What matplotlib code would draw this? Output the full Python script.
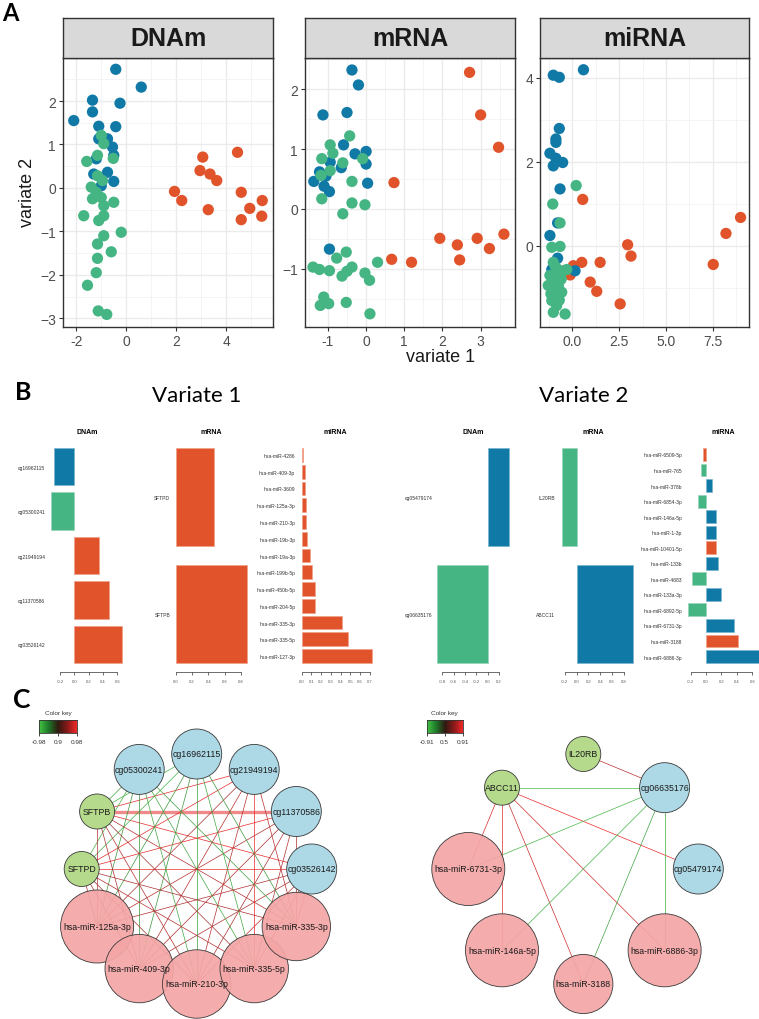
import numpy as np
import matplotlib
matplotlib.use("Agg")
import matplotlib.pyplot as plt
from matplotlib.patches import Circle
from matplotlib.colors import LinearSegmentedColormap, to_rgb

plt.rcParams['font.family'] = ['Liberation Sans', 'DejaVu Sans']

# ------------------------------------------------------------------ data
BLUE, GREEN, ORANGE = '#1179A6', '#45B584', '#E1542B'

# Panel A : sample plots (variate 1 / variate 2) per block and group
DNAM_BLUE_X = [-0.42, 0.6, -1.35, -1.35, -0.25, -2.1, -0.42, -1.1, -1.1, -0.75, -0.55, -0.5, -1.2, -1.3, -0.75, -0.5, -1.0]
DNAM_BLUE_Y = [2.73, 2.32, 2.02, 1.75, 1.95, 1.55, 1.41, 1.42, 1.13, 1.13, 0.94, 0.75, 0.67, 0.32, 0.36, 0.15, 0.05]
DNAM_GREEN_X = [-1.0, -0.9, -1.15, -1.58, -0.52, -1.15, -1.4, -1.2, -1.0, -0.9, -0.5, -1.7, -0.9, -1.1, -0.2, -0.9,
                -1.15, -0.6, -1.15, -1.2, -1.55, -1.12, -0.78, -1.35, -0.95]
DNAM_GREEN_Y = [1.21, 1.02, 0.75, 0.61, 0.68, 0.28, 0.02, -0.1, -0.22, -0.41, -0.33, -0.64, -0.64, -0.75, -1.02, -1.1,
                -1.29, -1.47, -1.62, -1.95, -2.24, -2.83, -2.91, -0.25, 0.17]
DNAM_ORANGE_X = [3.06, 4.45, 2.95, 3.35, 3.62, 1.93, 2.22, 3.28, 4.6, 5.44, 4.94, 4.6, 5.42]
DNAM_ORANGE_Y = [0.71, 0.82, 0.4, 0.32, 0.17, -0.08, -0.29, -0.5, -0.1, -0.29, -0.47, -0.73, -0.65]

MRNA_BLUE_X = [-0.37, -0.2, -1.13, -0.5, -0.59, -0.65, -0.29, 0.0, 0.0, 0.04, -1.22, -1.37, -0.96, -0.94, -0.96, -1.1, -1.05]
MRNA_BLUE_Y = [2.32, 2.07, 1.57, 1.61, 1.07, 0.69, 0.92, 0.96, 0.75, 0.43, 0.62, 0.46, 0.29, 0.78, -0.67, 0.38, 0.55]
MRNA_GREEN_X = [-0.94, -0.43, -0.87, -1.16, -0.61, -0.94, -1.18, -0.09, -0.37, -0.37, -0.03, -1.16, -0.61, -0.52, -0.77,
                0.3, -1.39, -1.22, -0.96, -0.37, -0.5, -0.63, -0.03, 0.09, -1.11, -1.2, -0.98, -0.52, 0.1]
MRNA_GREEN_Y = [1.07, 1.22, 0.93, 0.84, 0.77, 0.64, 0.56, 0.84, 0.46, 0.1, 0.07, 0.17, -0.08, -0.72, -0.82,
                -0.89, -0.97, -1.01, -1.03, -0.97, -1.04, -1.12, -1.07, -1.19, -1.47, -1.61, -1.58, -1.56, -1.75]
MRNA_ORANGE_X = [2.71, 3.0, 3.47, 0.73, 1.93, 2.39, 2.45, 2.91, 3.23, 3.61, 0.67, 1.19]
MRNA_ORANGE_Y = [2.28, 1.57, 1.03, 0.44, -0.49, -0.6, -0.85, -0.49, -0.66, -0.42, -0.84, -0.89]

MIRNA_BLUE_X = [-1.02, -0.7, 0.59, -0.7, -0.88, -0.88, -1.2, -1.02, -0.88, -0.52, -0.66, -0.79, -1.2, -0.79, -1.1, 0.14]
MIRNA_BLUE_Y = [4.06, 4.01, 4.19, 2.79, 2.54, 2.46, 2.2, 1.9, 2.08, 1.98, 1.35, 0.54, 0.24, -0.3, -0.57, -0.6]
MIRNA_GREEN_X = [0.2, -1.05, -0.66, -1.1, -0.66, -1.02, -0.84, -0.3, -1.29, -1.02, -0.57, -1.1, -0.84, -1.02, -0.39,
                 -0.66, -1.2, -0.75, -0.9, -0.6, -1.0, -0.7, -0.8, -1.15, -0.5]
MIRNA_GREEN_Y = [1.43, 0.99, 0.54, -0.04, -0.02, -0.4, -0.6, -0.57, -0.95, -0.83, -1.11, -1.31, -1.43, -1.59, -1.63,
                 -0.67, -0.71, -0.95, -0.5, -0.8, -1.2, -1.3, -1.0, -1.15, -0.6]
MIRNA_ORANGE_X = [0.55, 8.98, 8.2, 7.52, 2.95, 3.13, 1.48, 0.5, 0.05, -0.12, 0.95, 1.3, 2.55]
MIRNA_ORANGE_Y = [1.1, 0.67, 0.29, -0.45, 0.02, -0.25, -0.4, -0.4, -0.48, -0.7, -0.87, -1.09, -1.39]

# Panel B : loadings
V1_DNAM_LABELS = ['cg16962115', 'cg05300241', 'cg21949194', 'cg11370586', 'cg03526142']
V1_DNAM_VALUES = [-0.28, -0.33, 0.35, 0.48, 0.67]
V1_DNAM_COLORS = [BLUE, GREEN, ORANGE, ORANGE, ORANGE]

V1_MRNA_LABELS = ['SFTPD', 'SFTPB']
V1_MRNA_VALUES = [0.47, 0.87]
V1_MRNA_COLORS = [ORANGE, ORANGE]

V1_MIRNA_LABELS = ['hsa-miR-4286', 'hsa-miR-409-3p', 'hsa-miR-3609', 'hsa-miR-125a-3p', 'hsa-miR-210-3p',
                   'hsa-miR-19b-3p', 'hsa-miR-19a-3p', 'hsa-miR-199b-5p', 'hsa-miR-450b-5p', 'hsa-miR-204-5p',
                   'hsa-miR-335-3p', 'hsa-miR-335-5p', 'hsa-miR-127-3p']
V1_MIRNA_VALUES = [0.02, 0.04, 0.04, 0.045, 0.05, 0.06, 0.085, 0.11, 0.135, 0.14, 0.42, 0.48, 0.72]
V1_MIRNA_COLORS = [ORANGE] * 13

V2_DNAM_LABELS = ['cg05479174', 'cg06635176']
V2_DNAM_VALUES = [0.38, -0.89]
V2_DNAM_COLORS = [BLUE, GREEN]

V2_MRNA_LABELS = ['IL20RB', 'ABCC11']
V2_MRNA_VALUES = [-0.24, 0.955]
V2_MRNA_COLORS = [GREEN, BLUE]

V2_MIRNA_LABELS = ['hsa-miR-6509-5p', 'hsa-miR-765', 'hsa-miR-378b', 'hsa-miR-6854-3p', 'hsa-miR-146a-5p',
                   'hsa-miR-1-3p', 'hsa-miR-10401-5p', 'hsa-miR-133b', 'hsa-miR-4683', 'hsa-miR-133a-3p',
                   'hsa-miR-6892-5p', 'hsa-miR-6731-3p', 'hsa-miR-3188', 'hsa-miR-6886-3p']
V2_MIRNA_VALUES = [-0.04, -0.065, 0.083, -0.1, 0.126, 0.135, 0.135, 0.16, -0.18, 0.196, -0.24, 0.37, 0.41, 0.69]
V2_MIRNA_COLORS = [ORANGE, GREEN, BLUE, GREEN, BLUE, BLUE, ORANGE, BLUE, GREEN, BLUE, GREEN, BLUE, ORANGE, BLUE]

# Panel C : networks
NET1_NODES = ['cg03526142', 'cg11370586', 'cg21949194', 'cg16962115', 'cg05300241', 'SFTPB', 'SFTPD',
              'hsa-miR-125a-3p', 'hsa-miR-409-3p', 'hsa-miR-210-3p', 'hsa-miR-335-5p', 'hsa-miR-335-3p']
NET1_TYPES = ['DNAm'] * 5 + ['mRNA'] * 2 + ['miRNA'] * 5
NET1_MIRNA = ['hsa-miR-125a-3p', 'hsa-miR-409-3p', 'hsa-miR-210-3p', 'hsa-miR-335-5p', 'hsa-miR-335-3p']
NET1_CPG = ['cg03526142', 'cg11370586', 'cg21949194', 'cg16962115', 'cg05300241']
NET1_CPG_SFTPB = [0.97, 0.98, 0.975, -0.96, -0.95]
NET1_CPG_SFTPD = [0.975, 0.97, 0.97, -0.96, -0.96]
NET1_CPG_MIRNA = [[0.92, 0.91, 0.93, 0.92, 0.93],
                  [0.92, 0.92, 0.91, 0.92, 0.91],
                  [0.91, 0.92, 0.92, 0.97, 0.92],
                  [-0.93, -0.93, -0.94, -0.95, -0.93],
                  [-0.93, -0.92, -0.95, -0.95, -0.94]]
NET1_SFTPB_MIRNA = [0.92, 0.91, 0.92, 0.91, 0.92]
NET1_SFTPD_MIRNA = [0.91, 0.92, 0.91, 0.92, 0.91]
NET1_KEY = ['-0.98', '0.9', '0.98']

NET2_NODES = ['cg05479174', 'cg06635176', 'IL20RB', 'ABCC11', 'hsa-miR-6731-3p', 'hsa-miR-146a-5p',
              'hsa-miR-3188', 'hsa-miR-6886-3p']
NET2_TYPES = ['DNAm', 'DNAm', 'mRNA', 'mRNA', 'miRNA', 'miRNA', 'miRNA', 'miRNA']
NET2_EDGES = [('IL20RB', 'cg06635176', 0.62), ('ABCC11', 'cg06635176', -0.86), ('ABCC11', 'cg05479174', 0.89),
              ('ABCC11', 'hsa-miR-6731-3p', 0.78), ('ABCC11', 'hsa-miR-146a-5p', 0.8),
              ('ABCC11', 'hsa-miR-3188', 0.72), ('ABCC11', 'hsa-miR-6886-3p', 0.72),
              ('cg06635176', 'hsa-miR-6731-3p', -0.85), ('cg06635176', 'hsa-miR-146a-5p', -0.82),
              ('cg06635176', 'hsa-miR-3188', -0.72), ('cg06635176', 'hsa-miR-6886-3p', -0.78)]
NET2_KEY = ['-0.91', '0.5', '0.91']

# ------------------------------------------------------------------ figure
W, H = 759, 1020
fig = plt.figure(figsize=(W / 100, H / 100), dpi=100)
fig.patch.set_facecolor('white')


def rect(x0, y0, x1, y1):
    return [x0 / W, 1 - y1 / H, (x1 - x0) / W, (y1 - y0) / H]


def fx(x):
    return x / W


def fy(y):
    return 1 - y / H


# ---------------- Panel A
panelsA = [
    ('DNAm', 63, 273, (-2.53, 5.87), (-3.2, 2.99), [-2, 0, 2, 4], [-1, 1, 3, 5],
     [-3, -2, -1, 0, 1, 2], [-2.5, -1.5, -0.5, 0.5, 1.5, 2.5],
     (DNAM_BLUE_X, DNAM_BLUE_Y), (DNAM_GREEN_X, DNAM_GREEN_Y), (DNAM_ORANGE_X, DNAM_ORANGE_Y), '%g'),
    ('mRNA', 305, 515, (-1.6, 3.9), (-1.97, 2.52), [-1, 0, 1, 2, 3], [-1.5, -0.5, 0.5, 1.5, 2.5, 3.5],
     [-1, 0, 1, 2], [-1.5, -0.5, 0.5, 1.5, 2.5],
     (MRNA_BLUE_X, MRNA_BLUE_Y), (MRNA_GREEN_X, MRNA_GREEN_Y), (MRNA_ORANGE_X, MRNA_ORANGE_Y), '%g'),
    ('miRNA', 540, 749, (-1.73, 9.43), (-1.94, 4.47), [0, 2.5, 5, 7.5], [-1.25, 1.25, 3.75, 6.25, 8.75],
     [0, 2, 4], [-1, 1, 3],
     (MIRNA_BLUE_X, MIRNA_BLUE_Y), (MIRNA_GREEN_X, MIRNA_GREEN_Y), (MIRNA_ORANGE_X, MIRNA_ORANGE_Y), '%.1f'),
]

for (name, x0, x1, xl, yl, xt, xm, yt, ym, b, g, o, xfmt) in panelsA:
    ax = fig.add_axes(rect(x0, 59, x1, 328))
    ax.set_xlim(*xl)
    ax.set_ylim(*yl)
    ax.set_xticks(xt)
    ax.set_xticklabels([xfmt % v for v in xt])
    ax.set_xticks(xm, minor=True)
    ax.set_yticks(yt)
    ax.set_yticks(ym, minor=True)
    ax.grid(which='major', color='#EBEBEB', lw=1.0, zorder=0)
    ax.grid(which='minor', color='#F3F3F3', lw=0.6, zorder=0)
    ax.set_axisbelow(True)
    ax.tick_params(which='major', length=3, width=0.8, color='#333333', labelsize=10,
                   labelcolor='#4D4D4D', pad=2)
    ax.tick_params(which='minor', length=0)
    for sp in ax.spines.values():
        sp.set_color('#333333')
        sp.set_linewidth(1.0)
    for (xs, ys, c) in [(o[0], o[1], ORANGE), (b[0], b[1], BLUE), (g[0], g[1], GREEN)]:
        ax.scatter(xs, ys, s=66, color=c, edgecolors='none', zorder=3)
    sax = fig.add_axes(rect(x0, 19, x1, 59))
    sax.set_facecolor('#D9D9D9')
    sax.set_xticks([])
    sax.set_yticks([])
    for sp in sax.spines.values():
        sp.set_color('#333333')
        sp.set_linewidth(1.0)
    sax.text(0.5, 0.5, name, transform=sax.transAxes, ha='center', va='center',
             fontsize=18, fontweight='bold', color='#1A1A1A')

fig.text(fx(27), fy(192), 'variate 2', rotation=90, ha='center', va='center', fontsize=13, color='#1A1A1A')
fig.text(fx(441), fy(358), 'variate 1', ha='center', va='center', fontsize=13, color='#1A1A1A')
fig.text(fx(2), fy(21), 'A', ha='left', va='baseline', fontsize=17, fontweight='bold', family='Lato')

# ---------------- Panel B
fig.text(fx(15), fy(400), 'B', ha='left', va='baseline', fontsize=18, fontweight='bold', family='Lato')
fig.text(fx(197), fy(402), 'Variate 1', ha='center', va='baseline', fontsize=16, family='Lato')
fig.text(fx(584), fy(402), 'Variate 2', ha='center', va='baseline', fontsize=16, family='Lato')


def lighten(c, f=0.45):
    r, g_, b_ = to_rgb(c)
    return (r + (1 - r) * f, g_ + (1 - g_) * f, b_ + (1 - b_) * f)


def loadings(lbls, vals, cols, label_end, zero_px, ppu, right_px, ticks, title, title_x):
    n = len(vals)
    ppy = 215.0 / (1.2 * n - 0.2)
    left_px = label_end + 2
    ax = fig.add_axes(rect(left_px, 445, right_px, 673))
    ax.set_xlim((left_px - zero_px) / ppu, (right_px - zero_px) / ppu)
    ax.set_ylim(0.2 - 9 / ppy, 1.2 * n + 4 / ppy)
    centers = 0.7 + 1.2 * np.arange(n)[::-1]
    ax.barh(centers, vals, height=1.0, color=cols, edgecolor=[lighten(c) for c in cols], linewidth=0.5)
    ax.set_yticks(centers)
    ax.set_yticklabels(lbls, fontsize=3.6, color='#333333')
    ax.tick_params(axis='y', length=0, pad=1.2)
    ax.set_xticks(ticks)
    ax.set_xticklabels(['%.1f' % t for t in ticks], fontsize=3, color='#555555')
    ax.tick_params(axis='x', length=2.5, width=0.5, color='#333333', pad=2.5)
    for k in ['top', 'right', 'left']:
        ax.spines[k].set_visible(False)
    ax.spines['bottom'].set_bounds(ticks[0], ticks[-1])
    ax.spines['bottom'].set_linewidth(0.5)
    ax.spines['bottom'].set_color('#333333')
    ax.patch.set_alpha(0)
    fig.text(fx(title_x), fy(432), title, ha='center', va='center', fontsize=5, fontweight='bold')


loadings(V1_DNAM_LABELS, V1_DNAM_VALUES, V1_DNAM_COLORS, 45, 74.3, 71.5, 126,
         [-0.2, 0.0, 0.2, 0.4, 0.6], 'DNAm', 87)
loadings(V1_MRNA_LABELS, V1_MRNA_VALUES, V1_MRNA_COLORS, 170, 175.5, 82, 250,
         [0.0, 0.2, 0.4, 0.6, 0.8], 'mRNA', 211)
loadings(V1_MIRNA_LABELS, V1_MIRNA_VALUES, V1_MIRNA_COLORS, 295, 301.5, 97.6, 374,
         [0.0, 0.1, 0.2, 0.3, 0.4, 0.5, 0.6, 0.7], 'miRNA', 335)
loadings(V2_DNAM_LABELS, V2_DNAM_VALUES, V2_DNAM_COLORS, 432, 487.6, 56.5, 511,
         [-0.8, -0.6, -0.4, -0.2, 0.0, 0.2], 'DNAm', 473)
loadings(V2_MRNA_LABELS, V2_MRNA_VALUES, V2_MRNA_COLORS, 555, 576.6, 59.3, 636,
         [-0.2, 0.0, 0.2, 0.4, 0.6, 0.8], 'mRNA', 593)
loadings(V2_MIRNA_LABELS, V2_MIRNA_VALUES, V2_MIRNA_COLORS, 682, 706, 77, 759,
         [-0.2, 0.0, 0.2, 0.4, 0.6], 'miRNA', 723)

# ---------------- Panel C
fig.text(fx(13), fy(708), 'C', ha='left', va='baseline', fontsize=19, fontweight='bold', family='Lato')

nax = fig.add_axes(rect(0, 690, W, H))
nax.set_xlim(0, W)
nax.set_ylim(H, 690)
nax.axis('off')

NODE_FILL = {'DNAm': '#ADD8E6', 'mRNA': '#B5DA8C', 'miRNA': '#F4A6A6'}

NEG_DARK, NEG_BRIGHT = np.array(to_rgb('#2E7D2E')), np.array(to_rgb('#4CC24C'))
POS_DARK, POS_BRIGHT = np.array(to_rgb('#A23030')), np.array(to_rgb('#F22828'))


def edge_color(w, cut, wmax):
    t = np.clip((abs(w) - cut) / (wmax - cut), 0, 1)
    if w < 0:
        return tuple(NEG_DARK + (NEG_BRIGHT - NEG_DARK) * t)
    return tuple(POS_DARK + (POS_BRIGHT - POS_DARK) * t)


def node_radius(name, typ):
    if typ == 'mRNA':
        return 17.5
    return 2.3 * len(name) + 2


def draw_network(nodes, types, edges, cx, cy, R, cut, wmax, thick=None):
    n = len(nodes)
    ang = 2 * np.pi * np.arange(n) / n
    pos = {nm: (cx + R * np.cos(a), cy - R * np.sin(a)) for nm, a in zip(nodes, ang)}
    for a, b, w in edges:
        (x1, y1), (x2, y2) = pos[a], pos[b]
        if thick is not None and (a, b) == thick:
            nax.plot([x1, x2], [y1, y2], color='#F08A8A', lw=2.4, zorder=1, solid_capstyle='butt')
        else:
            nax.plot([x1, x2], [y1, y2], color=edge_color(w, cut, wmax), lw=0.5, zorder=1)
    for i, (nm, tp) in enumerate(zip(nodes, types)):
        x, y = pos[nm]
        alpha = 0.93 if tp == 'miRNA' else 1.0
        nax.add_patch(Circle((x, y), node_radius(nm, tp), facecolor=NODE_FILL[tp], alpha=alpha,
                             edgecolor='none', zorder=2 + i * 0.01))
        nax.add_patch(Circle((x, y), node_radius(nm, tp), facecolor='none', edgecolor='#3A3A3A',
                             lw=0.6, zorder=2 + i * 0.01 + 0.005))
        nax.text(x, y, nm, ha='center', va='center', fontsize=6.3, color='#1A1A1A', zorder=3)


net1_edges = []
for i, cg in enumerate(NET1_CPG):
    net1_edges.append(('SFTPB', cg, NET1_CPG_SFTPB[i]))
    net1_edges.append(('SFTPD', cg, NET1_CPG_SFTPD[i]))
for i, cg in enumerate(NET1_CPG):
    for j, mi in enumerate(NET1_MIRNA):
        net1_edges.append((cg, mi, NET1_CPG_MIRNA[i][j]))
for j, mi in enumerate(NET1_MIRNA):
    net1_edges.append(('SFTPB', mi, NET1_SFTPB_MIRNA[j]))
    net1_edges.append(('SFTPD', mi, NET1_SFTPD_MIRNA[j]))

draw_network(NET1_NODES, NET1_TYPES, net1_edges, 196.7, 870, 115, 0.9, 0.98, thick=('SFTPB', 'cg11370586'))
draw_network(NET2_NODES, NET2_TYPES, NET2_EDGES, 583.3, 870, 115, 0.5, 0.91)

KEY_CMAP = LinearSegmentedColormap.from_list('key', ['#45C445', '#1E7A2A', '#2E1A10', '#8A1A1A', '#F22828'])


def color_key(x0, x1, labels):
    axk = fig.add_axes(rect(x0, 721, x1, 734))
    axk.imshow(np.linspace(0, 1, 256)[None, :], aspect='auto', cmap=KEY_CMAP, extent=[0, 1, 0, 1])
    axk.set_xlim(0, 1)
    axk.set_ylim(0, 1)
    axk.set_xticks([0, 0.5, 1])
    axk.set_xticklabels(labels, fontsize=4.6, color='#333333')
    axk.set_yticks([])
    axk.tick_params(axis='x', length=2, width=0.5, pad=2.5)
    for sp in axk.spines.values():
        sp.set_linewidth(0.6)
        sp.set_color('#333333')
    fig.text(fx((x0 + x1) / 2), fy(714), 'Color key', ha='center', va='center', fontsize=4.6, color='#333333')


color_key(39, 77, NET1_KEY)
color_key(426.7, 462.7, NET2_KEY)

fig.savefig('out.png', dpi=100, facecolor='white')
